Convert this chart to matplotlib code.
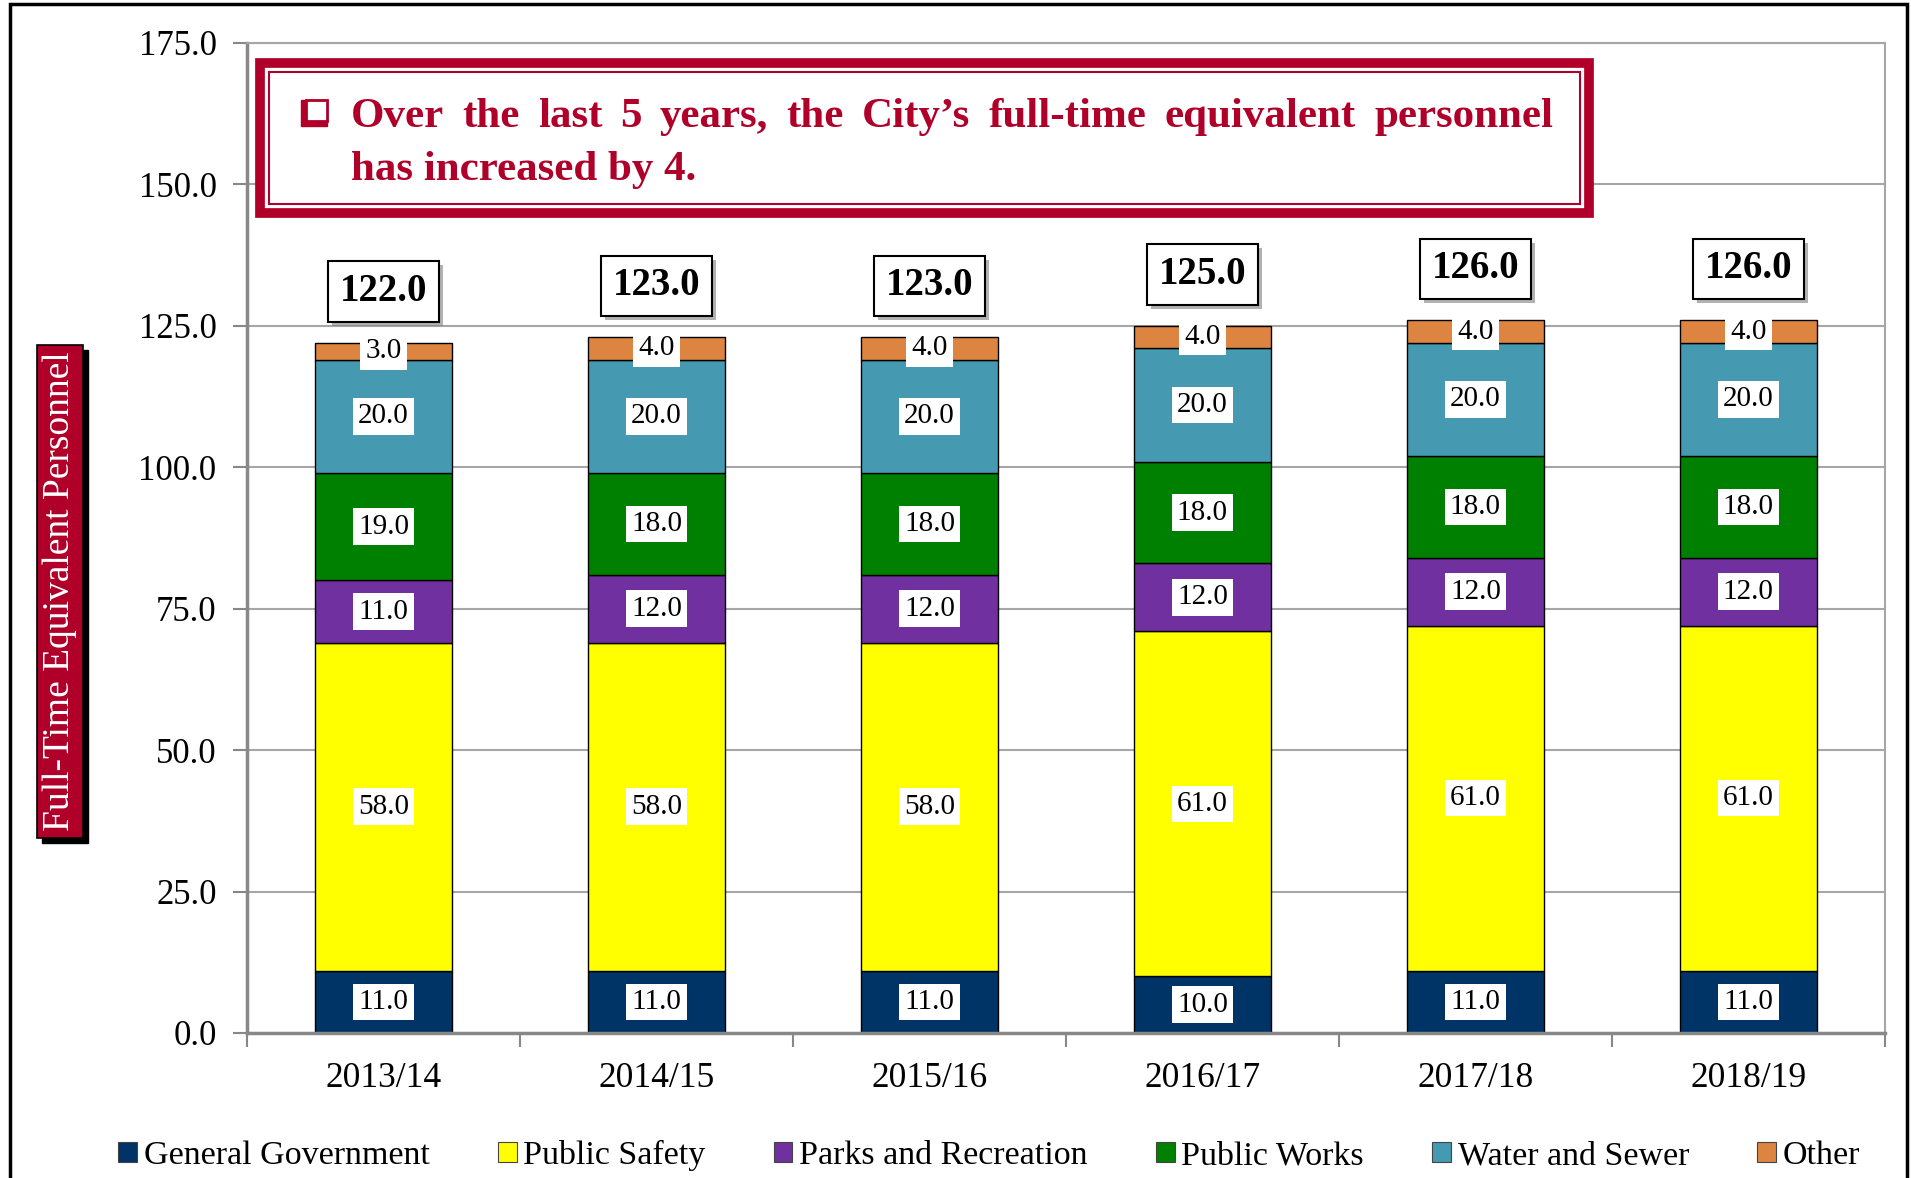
import matplotlib
matplotlib.use("Agg")
import matplotlib.pyplot as plt
import matplotlib.patheffects as pe
from matplotlib.patches import Rectangle, Patch
import numpy as np

plt.rcParams['font.family'] = ['Liberation Serif', 'DejaVu Serif']

years = ["2013/14", "2014/15", "2015/16", "2016/17", "2017/18", "2018/19"]
general_government = [11, 11, 11, 10, 11, 11]
public_safety = [58, 58, 58, 61, 61, 61]
parks_recreation = [11, 12, 12, 12, 12, 12]
public_works = [19, 18, 18, 18, 18, 18]
water_sewer = [20, 20, 20, 20, 20, 20]
other = [3, 4, 4, 4, 4, 4]

series_names = ["General Government", "Public Safety", "Parks and Recreation",
                "Public Works", "Water and Sewer", "Other"]
series_values = [general_government, public_safety, parks_recreation,
                 public_works, water_sewer, other]
colors = ["#003366", "#FFFF00", "#7030A0", "#008000", "#4599B1", "#DD8441"]

title_line1 = "Over the last 5 years, the City\u2019s full-time equivalent personnel"
title_line2 = "has increased by 4."
ylabel = "Full-Time Equivalent Personnel"
crimson = "#B0002A"

W, H = 1911, 1178
fig = plt.figure(figsize=(W / 100, H / 100), dpi=100)
ax = fig.add_axes([0.1293, 0.1231, 0.857, 0.8404])

x = np.arange(len(years))
bottom = np.zeros(len(years))
for name, vals, col in zip(series_names, series_values, colors):
    vals = np.array(vals, dtype=float)
    ax.bar(x, vals, width=0.5, bottom=bottom, color=col, edgecolor="black",
           linewidth=1.0, zorder=2, label=name)
    for xi, b, v in zip(x, bottom, vals):
        ax.text(xi, b + v / 2, f"{v:.1f}", ha="center", va="center",
                fontsize=21, color="black", zorder=4,
                bbox=dict(boxstyle="square,pad=0.18", fc="white", ec="none"))
    bottom = bottom + vals

totals = bottom
for xi, t in zip(x, totals):
    a = ax.annotate(f"{t:.1f}", xy=(xi, t), xytext=(0, 37),
                    textcoords="offset points", ha="center", va="center",
                    fontsize=28, fontweight="bold", zorder=5,
                    bbox=dict(boxstyle="square,pad=0.3", fc="white",
                              ec="black", lw=1.5))
    a.get_bbox_patch().set_path_effects([
        pe.SimplePatchShadow(offset=(3, -3), shadow_rgbFace="#808080", alpha=0.6),
        pe.Normal()])

ax.set_xlim(-0.5, len(years) - 0.5)
ax.set_ylim(0, 175)
ax.set_yticks(np.arange(0, 176, 25))
ax.set_yticklabels([f"{v:.1f}" for v in np.arange(0, 176, 25)], fontsize=25)
ax.set_xticks(x)
ax.set_xticklabels(years, fontsize=25.5)
ax.set_xticks(np.arange(-0.5, len(years), 1.0), minor=True)
ax.tick_params(axis="x", which="major", length=0, pad=21)
ax.tick_params(axis="x", which="minor", length=10, width=1.5, color="#888888",
               direction="out")
ax.tick_params(axis="y", length=10, width=1.5, color="#888888", pad=12)
ax.yaxis.grid(True, color="#A6A6A6", linewidth=1.5, zorder=0)
ax.set_axisbelow(True)
for s in ["left", "bottom"]:
    ax.spines[s].set_color("#888888")
    ax.spines[s].set_linewidth(2.5)
for s in ["right", "top"]:
    ax.spines[s].set_color("#A6A6A6")
    ax.spines[s].set_linewidth(1.5)

# Legend
handles = [Patch(facecolor=c, edgecolor="#444444", lw=0.8) for c in colors]
fig.legend(handles, series_names, loc="center", bbox_to_anchor=(0.5176, 0.019),
           ncol=6, frameon=False, fontsize=24.5, columnspacing=2.0,
           handletextpad=0.2, handlelength=0.55, handleheight=0.55)

# Y label box with shadow
bx0, bx1 = 37 / W, 83 / W
by0, by1 = 1 - 838 / H, 1 - 345 / H
fig.patches.append(Rectangle((bx0 + 5 / W, by0 - 5 / H), bx1 - bx0, by1 - by0,
                             transform=fig.transFigure, fc="black", ec="black",
                             zorder=1))
fig.patches.append(Rectangle((bx0, by0), bx1 - bx0, by1 - by0,
                             transform=fig.transFigure, fc=crimson, ec="black",
                             lw=1.2, zorder=2))
fig.text((bx0 + bx1) / 2, (by0 + by1) / 2, ylabel, rotation=90, ha="center",
         va="center", fontsize=27, color="white", zorder=3)

# Title box (double border)
tx0, tx1 = 260 / W, 1589 / W
ty0, ty1 = 1 - 213 / H, 1 - 63 / H
fig.patches.append(Rectangle((tx0, ty0), tx1 - tx0, ty1 - ty0,
                             transform=fig.transFigure, fc="white", ec=crimson,
                             lw=7, zorder=6))
fig.patches.append(Rectangle((tx0 + 9 / W, ty0 + 9 / H), tx1 - tx0 - 18 / W,
                             ty1 - ty0 - 18 / H, transform=fig.transFigure,
                             fc="none", ec=crimson, lw=1.5, zorder=7))

# checkbox glyph
cb_x, cb_y, cb_s = 301 / W, 1 - 126 / H, 26
fig.patches.append(Rectangle((cb_x, cb_y), cb_s / W, cb_s / H,
                             transform=fig.transFigure, fc=crimson, ec=crimson,
                             lw=1, zorder=8))
fig.patches.append(Rectangle((cb_x + 5 / W, cb_y + 5 / H), (cb_s - 5) / W,
                             (cb_s - 5) / H, transform=fig.transFigure,
                             fc="white", ec=crimson, lw=2, zorder=9))

renderer = fig.canvas.get_renderer()
title_kw = dict(fontsize=31, fontweight="bold", color=crimson, va="baseline",
                ha="left", zorder=10)
line1_y = 1 - 127 / H
line2_y = 1 - 180 / H
words = title_line1.split()
tobjs = [fig.text(0, line1_y, w, **title_kw) for w in words]
widths = [t.get_window_extent(renderer).width for t in tobjs]
x0_px, x1_px = 351, 1553
gap = (x1_px - x0_px - sum(widths)) / (len(words) - 1)
xp = x0_px
for t, w in zip(tobjs, widths):
    t.set_position((xp / W, line1_y))
    xp += w + gap
fig.text(x0_px / W, line2_y, title_line2, **title_kw)

# Figure border
fig.patches.append(Rectangle((10 / W, -0.01), (1907 - 10) / W, 1.01 - 4 / H,
                             transform=fig.transFigure, fill=False,
                             ec="black", lw=2.5, zorder=20))

fig.savefig("out.png", dpi=100)
